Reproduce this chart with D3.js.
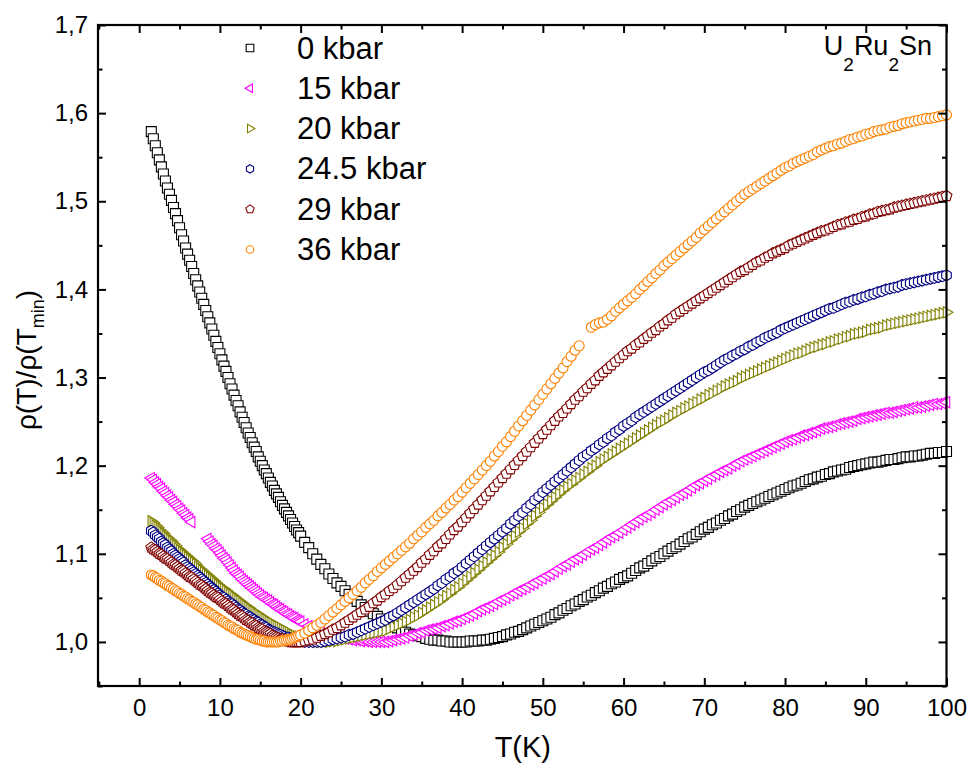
<!DOCTYPE html>
<html>
<head>
<meta charset="utf-8">
<script src="https://cdn.jsdelivr.net/npm/d3@7"></script>
<style>
  body { margin: 0; background: #fff; }
  text { font-family: "Liberation Sans", Arial, sans-serif; fill: #000; }
</style>
</head>
<body>
<svg id="chart" width="973" height="773"></svg>
<script>
// Temperature grid (K): 0.25 K steps below 20 K, 0.5 K steps above
const temps = [1.5,1.75,
  2,2.25,2.5,2.75,3,3.25,3.5,3.75,
  4,4.25,4.5,4.75,5,5.25,5.5,5.75,
  6,6.25,6.5,6.75,7,7.25,7.5,7.75,
  8,8.25,8.5,8.75,9,9.25,9.5,9.75,
  10,10.25,10.5,10.75,11,11.25,11.5,11.75,
  12,12.25,12.5,12.75,13,13.25,13.5,13.75,
  14,14.25,14.5,14.75,15,15.25,15.5,15.75,
  16,16.25,16.5,16.75,17,17.25,17.5,17.75,
  18,18.25,18.5,18.75,19,19.25,19.5,19.75,
  20,
  20.5,21,21.5,22,22.5,23,23.5,24,24.5,25,
  25.5,26,26.5,27,27.5,28,28.5,29,29.5,30,
  30.5,31,31.5,32,32.5,33,33.5,34,34.5,35,
  35.5,36,36.5,37,37.5,38,38.5,39,39.5,40,
  40.5,41,41.5,42,42.5,43,43.5,44,44.5,45,
  45.5,46,46.5,47,47.5,48,48.5,49,49.5,50,
  50.5,51,51.5,52,52.5,53,53.5,54,54.5,55,
  55.5,56,56.5,57,57.5,58,58.5,59,59.5,60,
  60.5,61,61.5,62,62.5,63,63.5,64,64.5,65,
  65.5,66,66.5,67,67.5,68,68.5,69,69.5,70,
  70.5,71,71.5,72,72.5,73,73.5,74,74.5,75,
  75.5,76,76.5,77,77.5,78,78.5,79,79.5,80,
  80.5,81,81.5,82,82.5,83,83.5,84,84.5,85,
  85.5,86,86.5,87,87.5,88,88.5,89,89.5,90,
  90.5,91,91.5,92,92.5,93,93.5,94,94.5,95,
  95.5,96,96.5,97,97.5,98,98.5,99,99.5,100];

// rho(T)/rho(Tmin) for each pressure; null = no point recorded
const rho0 = [1.579,1.571,
  1.563,1.555,1.547,1.539,1.531,1.523,1.515,1.508,
  1.501,1.493,1.486,1.478,1.470,1.462,1.455,1.447,
  1.440,1.433,1.426,1.418,1.411,1.404,1.397,1.390,
  1.383,1.376,1.369,1.362,1.355,1.348,1.341,1.334,
  1.327,1.320,1.313,1.307,1.300,1.293,1.287,1.280,
  1.274,1.268,1.261,1.255,1.249,1.243,1.237,1.232,
  1.226,1.221,1.216,1.210,1.205,1.200,1.195,1.191,
  1.186,1.181,1.177,1.172,1.168,1.164,1.159,1.155,
  1.151,1.147,1.143,1.139,1.135,1.131,1.127,1.124,
  1.120,
  1.113,1.107,1.100,1.094,1.088,1.083,1.077,1.072,1.067,1.063,
  1.058,1.054,1.050,1.046,1.042,1.039,1.035,1.032,1.029,1.026,
  1.023,1.020,1.018,1.016,1.013,1.011,1.009,1.008,1.007,1.006,
  1.004,1.003,1.002,1.002,1.001,1.001,1.000,1.000,1.000,1.000,
  1.000,1.001,1.001,1.001,1.002,1.002,1.003,1.004,1.005,1.006,
  1.008,1.009,1.011,1.012,1.014,1.016,1.018,1.020,1.022,1.024,
  1.026,1.028,1.031,1.033,1.036,1.038,1.041,1.043,1.046,1.048,
  1.051,1.053,1.056,1.058,1.061,1.063,1.066,1.068,1.071,1.073,
  1.075,1.078,1.081,1.084,1.086,1.089,1.092,1.095,1.097,1.100,
  1.103,1.106,1.108,1.111,1.114,1.117,1.119,1.122,1.125,1.128,
  1.130,1.133,1.135,1.138,1.140,1.143,1.145,1.148,1.150,1.153,
  1.155,1.157,1.159,1.161,1.163,1.165,1.167,1.169,1.171,1.173,
  1.175,1.177,1.178,1.180,1.182,1.184,1.185,1.187,1.188,1.190,
  1.191,1.193,1.194,1.195,1.196,1.198,1.199,1.200,1.201,1.202,
  1.203,1.204,1.204,1.205,1.206,1.207,1.207,1.208,1.209,1.210,
  1.210,1.211,1.211,1.212,1.213,1.214,1.214,1.215,1.215,1.216];

const rho15 = [1.186,1.184,
  1.181,1.179,1.176,1.174,1.171,1.169,1.166,1.164,
  1.161,1.159,1.156,1.154,1.151,1.149,1.146,1.144,
  1.141,1.139,1.136,null,null,null,null,null,
  null,null,1.117,1.114,1.111,1.109,1.106,1.104,
  1.101,1.098,1.095,1.093,1.090,1.087,1.084,1.081,
  1.078,1.076,1.074,1.071,1.069,1.067,1.065,1.063,
  1.061,1.059,1.057,1.055,1.053,1.051,1.050,1.048,
  1.047,1.045,1.043,1.042,1.040,1.038,1.037,1.035,
  1.034,1.032,1.031,1.029,1.028,1.027,1.025,1.024,
  1.023,
  1.020,1.018,1.016,1.014,1.012,1.010,1.009,1.007,1.006,1.005,
  1.004,1.003,1.002,1.002,1.001,1.001,1.000,1.000,1.000,1.000,
  1.000,1.001,1.002,1.003,1.004,1.005,1.007,1.008,1.010,1.011,
  1.013,1.014,1.015,1.016,1.018,1.019,1.021,1.023,1.024,1.026,
  1.028,1.030,1.032,1.035,1.037,1.039,1.041,1.043,1.046,1.048,
  1.050,1.053,1.055,1.058,1.060,1.062,1.065,1.067,1.070,1.072,
  1.075,1.077,1.080,1.083,1.086,1.088,1.091,1.094,1.096,1.099,
  1.102,1.105,1.107,1.110,1.113,1.116,1.119,1.121,1.124,1.127,
  1.130,1.133,1.136,1.139,1.142,1.144,1.147,1.150,1.153,1.156,
  1.159,1.161,1.164,1.167,1.169,1.172,1.175,1.178,1.180,1.183,
  1.185,1.188,1.190,1.193,1.195,1.197,1.200,1.202,1.205,1.207,
  1.209,1.211,1.213,1.215,1.217,1.219,1.221,1.223,1.225,1.227,
  1.229,1.230,1.232,1.234,1.235,1.237,1.238,1.240,1.242,1.243,
  1.244,1.245,1.247,1.248,1.249,1.250,1.251,1.253,1.254,1.255,
  1.256,1.257,1.258,1.259,1.260,1.260,1.261,1.262,1.263,1.264,
  1.265,1.266,1.266,1.267,1.268,1.269,1.270,1.270,1.271,1.272];

const rho20 = [1.137,1.135,
  1.132,1.130,1.127,1.125,1.123,1.120,1.118,1.116,
  1.114,1.111,1.109,1.106,1.104,1.102,1.100,1.098,
  1.096,1.094,1.092,1.090,1.088,1.085,1.083,1.081,
  1.079,1.077,1.075,1.073,1.071,1.069,1.067,1.065,
  1.063,1.061,1.060,1.058,1.056,1.054,1.053,1.051,
  1.049,1.047,1.046,1.044,1.042,1.040,1.039,1.037,
  1.035,1.034,1.032,1.031,1.029,1.028,1.026,1.025,
  1.023,1.022,1.021,1.019,1.018,1.017,1.016,1.014,
  1.013,1.012,1.011,1.009,1.008,1.007,1.006,1.006,
  1.005,
  1.003,1.002,1.001,1.000,1.000,1.000,1.000,1.001,1.001,1.002,
  1.003,1.004,1.005,1.006,1.007,1.008,1.009,1.010,1.011,1.012,
  1.013,1.015,1.017,1.019,1.021,1.023,1.025,1.028,1.030,1.033,
  1.036,1.039,1.042,1.045,1.048,1.052,1.055,1.059,1.062,1.066,
  1.070,1.074,1.078,1.082,1.086,1.090,1.094,1.098,1.102,1.107,
  1.111,1.116,1.120,1.125,1.129,1.134,1.138,1.143,1.147,1.152,
  1.156,1.160,1.164,1.168,1.172,1.176,1.179,1.183,1.186,1.190,
  1.193,1.197,1.200,1.204,1.207,1.210,1.213,1.216,1.219,1.222,
  1.225,1.228,1.231,1.234,1.237,1.240,1.243,1.246,1.249,1.251,
  1.254,1.257,1.260,1.262,1.265,1.267,1.270,1.272,1.275,1.277,
  1.280,1.282,1.285,1.287,1.290,1.292,1.294,1.296,1.299,1.301,
  1.303,1.305,1.307,1.309,1.311,1.313,1.315,1.317,1.319,1.321,
  1.323,1.325,1.327,1.328,1.330,1.332,1.334,1.335,1.337,1.338,
  1.340,1.341,1.343,1.344,1.346,1.347,1.349,1.350,1.351,1.352,
  1.354,1.355,1.356,1.357,1.359,1.360,1.361,1.362,1.363,1.364,
  1.365,1.366,1.367,1.368,1.369,1.370,1.371,1.372,1.373,1.374];

const rho245 = [1.126,1.124,
  1.121,1.119,1.117,1.114,1.112,1.110,1.107,1.105,
  1.103,1.100,1.098,1.096,1.094,1.092,1.090,1.087,
  1.085,1.083,1.081,1.079,1.077,1.075,1.073,1.071,
  1.069,1.067,1.065,1.063,1.061,1.059,1.057,1.055,
  1.053,1.051,1.050,1.048,1.046,1.044,1.043,1.041,
  1.039,1.037,1.036,1.034,1.032,1.031,1.029,1.028,
  1.026,1.025,1.023,1.022,1.020,1.019,1.017,1.016,
  1.014,1.013,1.012,1.011,1.010,1.009,1.008,1.007,
  1.006,1.005,1.005,1.004,1.003,1.002,1.002,1.001,
  1.001,
  1.000,1.000,1.000,1.000,1.000,1.001,1.002,1.003,1.004,1.005,
  1.006,1.008,1.009,1.011,1.013,1.015,1.017,1.019,1.021,1.023,
  1.025,1.028,1.030,1.033,1.036,1.039,1.042,1.045,1.048,1.051,
  1.054,1.057,1.060,1.064,1.067,1.071,1.074,1.078,1.081,1.085,
  1.089,1.093,1.097,1.101,1.105,1.109,1.113,1.117,1.121,1.125,
  1.129,1.134,1.138,1.143,1.147,1.152,1.156,1.161,1.165,1.170,
  1.174,1.178,1.182,1.186,1.190,1.194,1.198,1.202,1.206,1.210,
  1.213,1.217,1.220,1.224,1.227,1.231,1.234,1.238,1.241,1.245,
  1.248,1.251,1.255,1.258,1.261,1.264,1.267,1.270,1.273,1.276,
  1.279,1.282,1.285,1.288,1.291,1.294,1.297,1.300,1.303,1.306,
  1.308,1.311,1.314,1.317,1.320,1.322,1.325,1.327,1.330,1.332,
  1.335,1.337,1.340,1.342,1.345,1.347,1.349,1.351,1.354,1.356,
  1.358,1.360,1.362,1.364,1.366,1.368,1.370,1.372,1.374,1.376,
  1.378,1.379,1.381,1.383,1.385,1.386,1.388,1.389,1.391,1.392,
  1.394,1.395,1.397,1.398,1.400,1.401,1.402,1.403,1.405,1.406,
  1.407,1.408,1.409,1.410,1.411,1.412,1.413,1.414,1.415,1.416];

const rho29 = [1.107,1.105,
  1.104,1.102,1.100,1.099,1.097,1.095,1.094,1.092,
  1.090,1.088,1.087,1.085,1.083,1.081,1.080,1.078,
  1.076,1.074,1.073,1.071,1.069,1.067,1.065,1.064,
  1.062,1.060,1.058,1.056,1.055,1.053,1.051,1.050,
  1.048,1.046,1.044,1.043,1.041,1.039,1.037,1.036,
  1.034,1.032,1.030,1.029,1.027,1.025,1.024,1.022,
  1.021,1.019,1.018,1.016,1.015,1.014,1.012,1.011,
  1.010,1.009,1.007,1.006,1.005,1.004,1.003,1.003,
  1.002,1.001,1.001,1.000,1.000,1.000,1.000,1.000,
  1.000,
  1.001,1.002,1.003,1.005,1.007,1.009,1.011,1.014,1.016,1.019,
  1.022,1.025,1.028,1.031,1.034,1.037,1.040,1.044,1.047,1.051,
  1.054,1.058,1.061,1.065,1.069,1.073,1.077,1.081,1.085,1.090,
  1.094,1.099,1.103,1.108,1.112,1.117,1.122,1.127,1.131,1.136,
  1.141,1.146,1.151,1.156,1.161,1.166,1.171,1.176,1.181,1.186,
  1.191,1.196,1.201,1.206,1.211,1.216,1.221,1.226,1.231,1.236,
  1.241,1.246,1.251,1.256,1.260,1.265,1.270,1.275,1.279,1.284,
  1.288,1.293,1.297,1.302,1.306,1.310,1.314,1.318,1.322,1.326,
  1.330,1.333,1.337,1.340,1.344,1.347,1.351,1.354,1.358,1.361,
  1.365,1.368,1.372,1.375,1.378,1.381,1.384,1.387,1.390,1.393,
  1.396,1.399,1.402,1.405,1.408,1.411,1.414,1.417,1.420,1.422,
  1.425,1.428,1.431,1.433,1.436,1.438,1.441,1.443,1.445,1.447,
  1.450,1.452,1.454,1.456,1.458,1.460,1.462,1.464,1.466,1.467,
  1.469,1.471,1.473,1.474,1.476,1.477,1.479,1.480,1.482,1.483,
  1.485,1.486,1.488,1.489,1.490,1.491,1.493,1.494,1.495,1.496,
  1.497,1.498,1.499,1.500,1.501,1.502,1.503,1.504,1.505,1.506];

const rho36 = [1.076,1.075,
  1.073,1.072,1.070,1.069,1.067,1.066,1.064,1.063,
  1.061,1.060,1.058,1.057,1.055,1.054,1.052,1.051,
  1.049,1.048,1.046,1.045,1.043,1.042,1.040,1.039,
  1.037,1.036,1.034,1.033,1.031,1.030,1.028,1.027,
  1.025,1.024,1.022,1.021,1.019,1.018,1.017,1.015,
  1.014,1.013,1.011,1.010,1.009,1.008,1.007,1.006,
  1.005,1.004,1.003,1.003,1.002,1.001,1.001,1.000,
  1.000,1.000,1.000,1.000,1.000,1.000,1.001,1.001,
  1.002,1.002,1.003,1.003,1.004,1.005,1.006,1.007,
  1.008,
  1.010,1.013,1.016,1.019,1.022,1.026,1.030,1.034,1.038,1.042,
  1.046,1.050,1.054,1.058,1.062,1.067,1.071,1.075,1.080,1.084,
  1.088,1.092,1.096,1.100,1.104,1.108,1.112,1.117,1.121,1.125,
  1.130,1.134,1.138,1.143,1.147,1.152,1.156,1.161,1.165,1.170,
  1.175,1.180,1.185,1.190,1.195,1.200,1.205,1.211,1.216,1.222,
  1.227,1.233,1.239,1.245,1.251,1.257,1.263,1.269,1.275,1.281,
  1.287,1.293,1.299,1.305,1.311,1.318,1.324,1.331,1.336,null,
  null,1.357,1.360,1.362,1.363,1.366,1.370,1.375,1.379,1.383,
  1.387,1.391,1.395,1.400,1.404,1.409,1.413,1.418,1.422,1.427,
  1.431,1.435,1.439,1.443,1.447,1.451,1.455,1.459,1.464,1.468,
  1.472,1.476,1.480,1.484,1.488,1.492,1.496,1.500,1.504,1.508,
  1.511,1.514,1.517,1.520,1.523,1.526,1.529,1.532,1.535,1.538,
  1.540,1.543,1.545,1.547,1.549,1.551,1.553,1.556,1.558,1.560,
  1.562,1.563,1.565,1.566,1.568,1.570,1.571,1.573,1.574,1.576,
  1.577,1.579,1.580,1.581,1.582,1.584,1.585,1.586,1.588,1.589,
  1.590,1.591,1.592,1.593,1.594,1.594,1.595,1.596,1.597,1.598];

const seriesLabels = ["0 kbar", "15 kbar", "20 kbar", "24.5 kbar", "29 kbar", "36 kbar"];
const seriesValues = [rho0, rho15, rho20, rho245, rho29, rho36];
const seriesColors = ["#000000", "#ff00ff", "#808000", "#000080", "#800000", "#ff8000"];
const seriesShapes = ["square", "triLeft", "triRight", "hexagon", "pentagon", "circle"];

const xTickValues = [0, 10, 20, 30, 40, 50, 60, 70, 80, 90, 100];
const yTickValues = [1.0, 1.1, 1.2, 1.3, 1.4, 1.5, 1.6, 1.7];

// ---- layout ----
const svg = d3.select("#chart");
const frame = { left: 98, right: 946.5, top: 25, bottom: 686 };
const x = d3.scaleLinear().domain([-5.1, 100]).range([frame.left, frame.right]);
const y = d3.scaleLinear().domain([0.95, 1.70]).range([frame.bottom, frame.top]);

// ---- marker shapes ----
function polygon(n, r, rot) {
  const pts = d3.range(n).map(i => {
    const a = rot + i * 2 * Math.PI / n;
    return [r * Math.sin(a), -r * Math.cos(a)];
  });
  return "M" + pts.map(p => p[0].toFixed(2) + "," + p[1].toFixed(2)).join("L") + "Z";
}
const shapePath = {
  square: s => `M${-s},${-s}H${s}V${s}H${-s}Z`,
  triLeft: s => polygon(3, s * 1.3, -Math.PI / 2),
  triRight: s => polygon(3, s * 1.3, Math.PI / 2),
  hexagon: s => polygon(6, s * 1.1, 0),
  pentagon: s => polygon(5, s * 1.15, 0),
  circle: s => `M${s},0A${s},${s} 0 1,1 ${-s},0A${s},${s} 0 1,1 ${s},0Z`
};

// ---- data points (open symbols, later runs drawn on top) ----
const pts = svg.append("g");
seriesValues.forEach((vals, k) => {
  const data = temps.map((t, i) => ({ t, v: vals[i] })).filter(d => d.v != null);
  const d = shapePath[seriesShapes[k]](5);
  pts.append("g")
    .selectAll("path")
    .data(data)
    .join("path")
    .attr("d", d)
    .attr("transform", p => `translate(${x(p.t)},${y(p.v)})`)
    .attr("fill", "#fff")
    .attr("stroke", seriesColors[k])
    .attr("stroke-width", 1.1);
});

// ---- axes (ticks point inward on all four sides) ----
const xMinor = d3.range(-5, 101, 5).filter(v => v % 10 !== 0);
const yMinor = d3.range(0, 8).map(i => 0.95 + i * 0.1);
const fmtY = v => d3.format(".1f")(v).replace(".", ",");

function styleAxis(g) {
  g.select(".domain").remove();
  g.selectAll(".tick line").attr("stroke", "#000").attr("stroke-width", 2);
  g.selectAll(".tick text").attr("font-family", "Liberation Sans, Arial, sans-serif").attr("fill", "#000");
}

svg.append("g").attr("transform", `translate(0,${frame.bottom})`)
  .call(d3.axisBottom(x).tickValues(xTickValues).tickSizeInner(-8).tickSizeOuter(0).tickPadding(13))
  .attr("font-size", 24).call(styleAxis);
svg.append("g").attr("transform", `translate(0,${frame.bottom})`)
  .call(d3.axisBottom(x).tickValues(xMinor).tickSizeInner(-4.5).tickSizeOuter(0).tickFormat(""))
  .call(styleAxis);
svg.append("g").attr("transform", `translate(0,${frame.top})`)
  .call(d3.axisTop(x).tickValues(xTickValues).tickSizeInner(-8).tickSizeOuter(0).tickFormat(""))
  .call(styleAxis);
svg.append("g").attr("transform", `translate(0,${frame.top})`)
  .call(d3.axisTop(x).tickValues(xMinor).tickSizeInner(-4.5).tickSizeOuter(0).tickFormat(""))
  .call(styleAxis);

svg.append("g").attr("transform", `translate(${frame.left},0)`)
  .call(d3.axisLeft(y).tickValues(yTickValues).tickSizeInner(-8).tickSizeOuter(0).tickPadding(10).tickFormat(fmtY))
  .attr("font-size", 24).call(styleAxis);
svg.append("g").attr("transform", `translate(${frame.left},0)`)
  .call(d3.axisLeft(y).tickValues(yMinor).tickSizeInner(-4.5).tickSizeOuter(0).tickFormat(""))
  .call(styleAxis);
svg.append("g").attr("transform", `translate(${frame.right},0)`)
  .call(d3.axisRight(y).tickValues(yTickValues).tickSizeInner(-8).tickSizeOuter(0).tickFormat(""))
  .call(styleAxis);
svg.append("g").attr("transform", `translate(${frame.right},0)`)
  .call(d3.axisRight(y).tickValues(yMinor).tickSizeInner(-4.5).tickSizeOuter(0).tickFormat(""))
  .call(styleAxis);

// frame
svg.append("rect")
  .attr("x", frame.left).attr("y", frame.top)
  .attr("width", frame.right - frame.left).attr("height", frame.bottom - frame.top)
  .attr("fill", "none").attr("stroke", "#000").attr("stroke-width", 2.2);

// ---- axis titles ----
svg.append("text")
  .attr("x", (x(0) + x(100)) / 2 - 20).attr("y", 757)
  .attr("text-anchor", "middle").attr("font-size", 29)
  .text("T(K)");

const yTitle = svg.append("text")
  .attr("transform", "translate(36,360) rotate(-90)")
  .attr("text-anchor", "middle").attr("font-size", 28);
yTitle.append("tspan").text("ρ(T)/ρ(T");
yTitle.append("tspan").attr("font-size", 18).attr("dy", 8).text("min");
yTitle.append("tspan").attr("dy", -8).text(")");

// ---- compound label ----
const title = svg.append("text").attr("x", 932).attr("y", 55)
  .attr("text-anchor", "end").attr("font-size", 27);
[["U", 0], ["2", 1], ["Ru", 0], ["2", 1], ["Sn", 0]].forEach(([s, sub], i, arr) => {
  const prevSub = i > 0 ? arr[i - 1][1] : 0;
  title.append("tspan")
    .attr("font-size", sub ? 19 : 27)
    .attr("dy", sub ? 16 : (prevSub ? -16 : 0))
    .text(s);
});

// ---- legend ----
const legend = svg.append("g");
seriesLabels.forEach((name, k) => {
  const ly = 48 + k * 40.3;
  legend.append("path")
    .attr("d", shapePath[seriesShapes[k]](3.8))
    .attr("transform", `translate(250,${ly})`)
    .attr("fill", "#fff").attr("stroke", seriesColors[k]).attr("stroke-width", 1.1);
  legend.append("text")
    .attr("x", 297).attr("y", ly + 10.5)
    .attr("font-size", 31)
    .text(name);
});
</script>
</body>
</html>
